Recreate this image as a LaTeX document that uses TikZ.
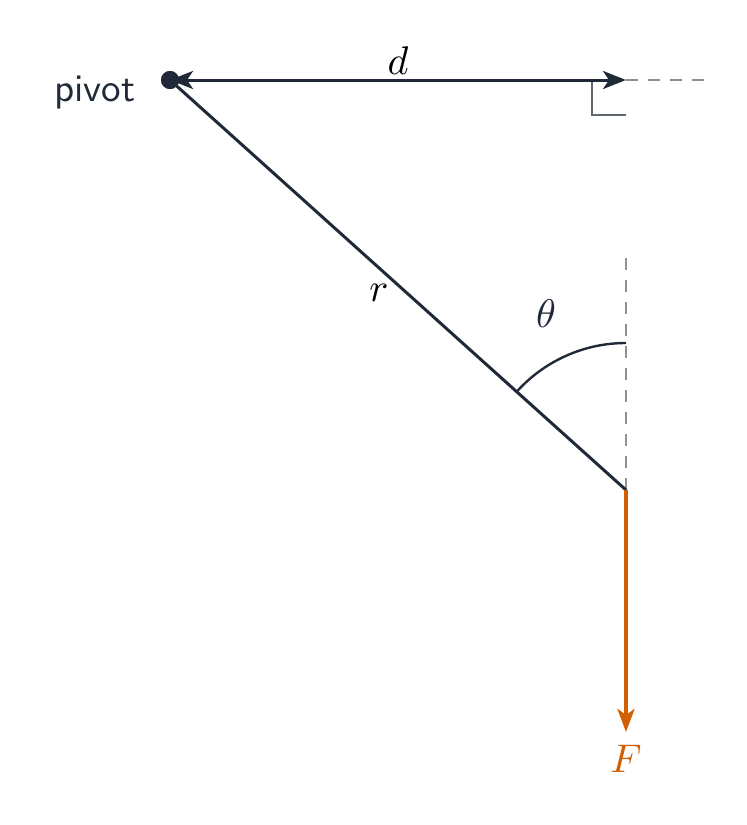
\documentclass[tikz,border=0pt]{standalone}
\usepackage{graphicx}
\usetikzlibrary{arrows.meta}
\definecolor{ink}{HTML}{1F2937}
\definecolor{guide}{HTML}{8A8F98}
\definecolor{sqmark}{HTML}{5F6670}
\definecolor{force}{HTML}{D35F00}
\tikzset{
  tipink/.tip={Stealth[length=23pt,width=18pt,inset=6pt]},
  tipforce/.tip={Stealth[length=23pt,width=17pt,inset=6pt]}}
\newcommand{\bigmath}[1]{\scalebox{4}{$#1$}}
\begin{document}
\begin{tikzpicture}[x=1pt,y=-1pt,
  lbl/.style={inner sep=1pt},
  guideline/.style={guide, line width=2pt, dash pattern=on 12pt off 10pt},
  member/.style={ink, line width=3pt}]
\useasboundingbox (0,0) rectangle (747,825);
\coordinate (A) at (626,490);
\coordinate (D) at (626,80);
\coordinate (De) at (706,80);
\coordinate (Vt) at (626,258);
\coordinate (Fe) at (626,732);
\coordinate (R1) at (592,80);
\coordinate (R2) at (592,115);
\coordinate (R3) at (626,115);
% guides
\draw[guideline] (D) -- (De);
\draw[guideline] (Vt) -- (A);
\draw[sqmark, line width=2pt] (R1) -- (R2) -- (R3);
% members
\node[circle, fill=ink, inner sep=0pt, minimum size=18pt] (pivot) at (170,80) {};
\draw[member] (pivot.center) -- (A);
\draw[member, tipink-tipink] (pivot.center) -- (D);
\fill[ink] (pivot.center) circle (9pt);
% angle arc
\draw[ink, line width=2.4pt] (A) ++(-90:147) arc[start angle=-90, end angle=-138.04, radius=147];
% force
\draw[force, line width=4pt, -tipforce] (A) -- (Fe);
% labels
\node[lbl, fill=white] (dl) at (398,61) {\bigmath{d}};
\node[lbl, fill=white] (rl) at (379,293) {\bigmath{r}};
\node[lbl, text=ink] (tl) at (546,314) {\bigmath{\theta}};
\node[lbl, text=force] (fl) at (626,759) {\bigmath{F}};
\node[lbl, text=ink] (pl) at (95,93) {\scalebox{3.9}{\sffamily pivot}};
\end{tikzpicture}
\end{document}
